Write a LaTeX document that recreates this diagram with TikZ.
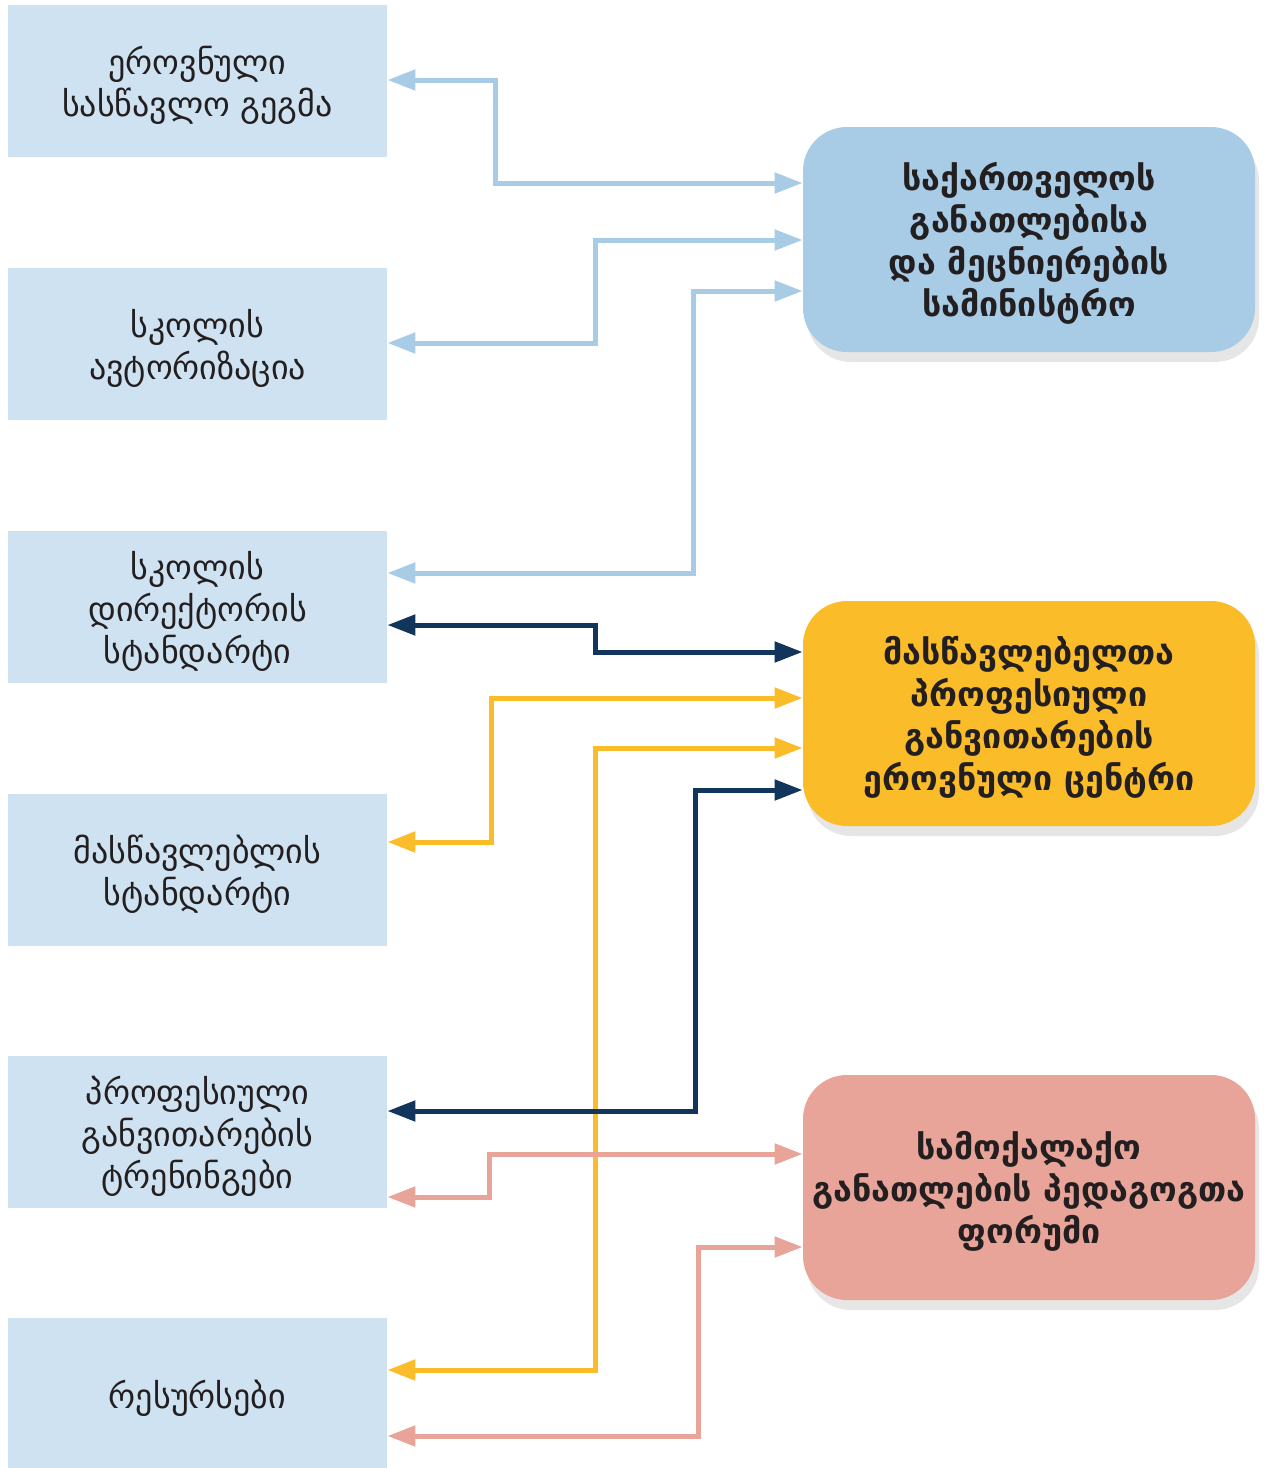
\documentclass[tikz,border=0pt]{standalone}
\usepackage{fontspec}
\setmainfont{DejaVu Sans}
\usetikzlibrary{arrows.meta,shadows}

\definecolor{topicfill}{HTML}{CFE2F1}
\definecolor{ministryblue}{HTML}{A9CCE6}
\definecolor{navyline}{HTML}{12355B}
\definecolor{centreyellow}{HTML}{FBBC2A}
\definecolor{forumpink}{HTML}{E8A498}
\definecolor{inktext}{HTML}{231F20}

\begin{document}
\begin{tikzpicture}[x=0.5pt,y=-0.5pt]
        \tikzstyle{every node}=[font=\fontsize{17}{21}\selectfont, text=inktext, align=center, text depth=-1.5pt]
        \tikzstyle{topic}=[fill=topicfill, minimum width=189.5pt, minimum height=76pt, inner sep=0pt]
        \tikzstyle{agency}=[rounded corners=22pt, minimum width=226pt, minimum height=112.5pt, inner sep=0pt,
            font=\fontsize{17}{21}\selectfont\bfseries, drop shadow={shadow xshift=2pt, shadow yshift=-5pt, opacity=0.2}]
        \tikzstyle{link}=[line width=2.5pt, {Triangle[length=14pt,width=10pt]}-{Triangle[length=14pt,width=10pt]}]

        \useasboundingbox (0,0) rectangle (1264,1468);

        % left column
        \node[topic] (curriculum) at (197.5,81)   {ეროვნული\\სასწავლო გეგმა};
        \node[topic] (authorisation) at (197.5,344)  {სკოლის\\ავტორიზაცია};
        \node[topic] (directorstd) at (197.5,607)  {სკოლის\\დირექტორის\\სტანდარტი};
        \node[topic] (teacherstd) at (197.5,870)  {მასწავლებლის\\სტანდარტი};
        \node[topic] (trainings) at (197.5,1132) {პროფესიული\\განვითარების\\ტრენინგები};
        \node[topic] (resources) at (197.5,1394) {რესურსები};

        % right column
        \node[agency, fill=ministryblue] (ministry) at (1029,239.5)  {საქართველოს\\განათლებისა\\და მეცნიერების\\სამინისტრო};
        \node[agency, fill=centreyellow] (tpdc) at (1029,713.5)  {მასწავლებელთა\\პროფესიული\\განვითარების\\ეროვნული ცენტრი};
        \node[agency, fill=forumpink] (forum) at (1029,1187.5) {სამოქალაქო\\განათლების პედაგოგთა\\ფორუმი};

        % ministry
        \draw[link, ministryblue] (curriculum.east |- 0,80) -| (495,183) -- (ministry.west |- 0,183);
        \draw[link, ministryblue] (authorisation.east |- 0,343) -| (595,240) -- (ministry.west |- 0,240);
        \draw[link, ministryblue] (directorstd.east |- 0,573) -| (693,291) -- (ministry.west |- 0,291);

        % centre
        \draw[link, navyline] (directorstd.east |- 0,625) -| (595,652) -- (tpdc.west |- 0,652);
        \draw[link, centreyellow] (teacherstd.east |- 0,842) -| (491,698) -- (tpdc.west |- 0,698);
        \draw[link, centreyellow] (resources.east |- 0,1370) -| (595,748) -- (tpdc.west |- 0,748);
        \draw[link, navyline] (trainings.east |- 0,1111) -| (695,790) -- (tpdc.west |- 0,790);

        % forum
        \draw[link, forumpink] (trainings.east |- 0,1197) -| (489,1154) -- (forum.west |- 0,1154);
        \draw[link, forumpink] (resources.east |- 0,1436) -| (698,1247) -- (forum.west |- 0,1247);

    \end{tikzpicture}
\end{document}
